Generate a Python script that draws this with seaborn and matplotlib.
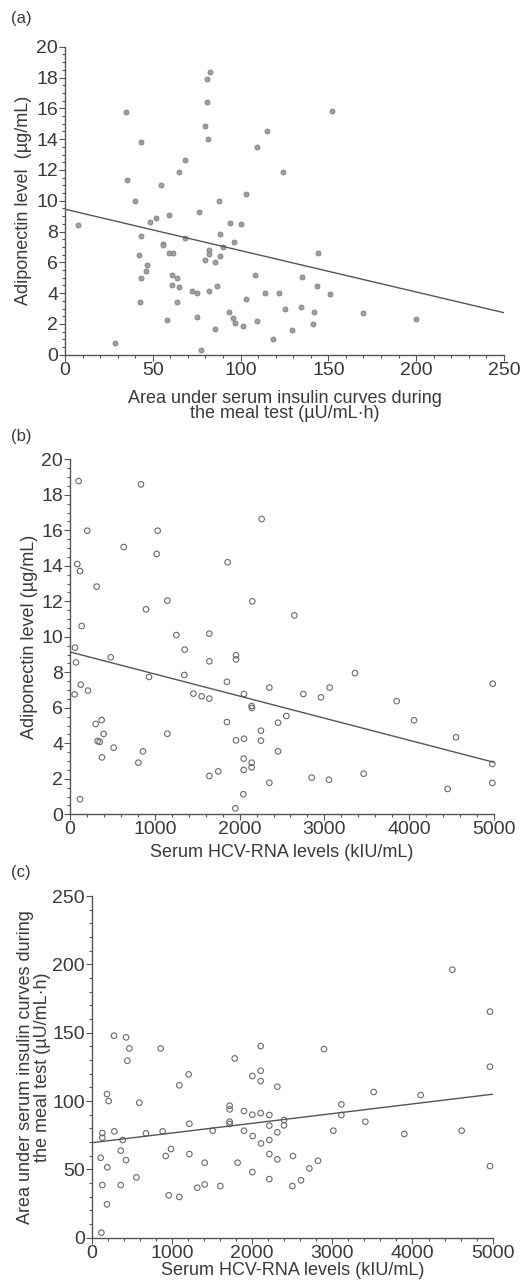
import matplotlib
matplotlib.use("Agg")
import matplotlib.pyplot as plt
from matplotlib.ticker import MultipleLocator
import seaborn as sns
import pandas as pd

# ---------------- data ----------------
# (a) AUC insulin vs adiponectin
a_auc = [7.2, 28.5, 34.9, 35.5, 40, 42, 43.5, 43.5, 43.3, 42.5, 46.7, 45.9, 48.2, 52, 54.5,
         55.6, 56, 59, 57.9, 59.4, 61.7, 60.7, 60.7, 63.6, 65.1, 63.8, 65.1, 68.5, 68.5, 72.3,
         75.2, 75, 76.3, 77.6, 79.7, 80.7, 80.9, 82.8, 81.6, 79.5, 82, 82, 82, 85.4, 85.4,
         86.6, 87.5, 88.3, 88.5, 89.8, 93.2, 93.8, 95.5, 96.4, 97, 100.4, 101.2, 103.1, 103.3,
         108.2, 109.2, 109.5, 114.8, 114.1, 118.6, 121.9, 124, 125.5, 129.1, 134.2, 135,
         141.8, 141.2, 143.3, 144.1, 150.9, 152.2, 169.5, 199.9]
a_adipo = [8.42, 0.74, 15.78, 11.34, 10.0, 6.47, 13.83, 7.73, 4.96, 3.4, 5.84, 5.45, 8.64, 8.85,
           11.0, 7.19, 7.1, 9.05, 2.25, 6.58, 6.58, 5.17, 4.52, 4.96, 4.42, 3.4, 11.84, 12.66,
           7.55, 4.11, 4.0, 2.47, 9.29, 0.32, 14.85, 17.92, 16.39, 18.38, 14.03, 6.17, 6.8,
           6.54, 4.11, 6.0, 1.67, 4.46, 10.0, 7.84, 6.39, 7.01, 2.79, 8.57, 2.36, 7.34, 2.08,
           8.48, 1.86, 3.59, 10.41, 5.17, 13.5, 2.19, 14.55, 4.0, 1.02, 4.0, 11.84, 3.0, 1.58,
           3.12, 5.06, 2.79, 1.99, 4.44, 6.58, 3.94, 15.82, 2.68, 2.29]
a_fit_x = [0, 250]
a_fit_y = [9.45, 2.73]

# (b) HCV-RNA vs adiponectin
b_rna = [102, 837, 204, 1034, 633, 1022, 86, 118, 1859, 2260, 314, 1148, 2150, 896, 2646, 138,
         1254, 1643, 1352, 59, 71, 480, 1643, 1958, 1958, 932, 1348, 1851, 3361, 4985, 126, 55,
         212, 1455, 1553, 1643, 2052, 2351, 2752, 2960, 3062, 2142, 2146, 3852, 2551, 303, 373,
         397, 326, 350, 515, 377, 1148, 1851, 2453, 4057, 1958, 2052, 2252, 2252, 2453, 4552,
         861, 806, 1643, 1749, 2048, 2048, 2142, 2142, 2351, 2850, 3054, 3463, 4454, 4981,
         4981, 118, 2044, 1950]
b_adipo = [18.78, 18.59, 15.98, 15.98, 15.06, 14.67, 14.10, 13.71, 14.2, 16.64, 12.83, 12.04,
           12.0, 11.55, 11.21, 10.61, 10.1, 10.18, 9.28, 9.39, 8.56, 8.85, 8.62, 8.96, 8.73,
           7.74, 7.85, 7.47, 7.96, 7.36, 7.31, 6.76, 6.97, 6.8, 6.65, 6.52, 6.78, 7.14, 6.78,
           6.59, 7.14, 6.1, 5.99, 6.38, 5.54, 5.09, 5.31, 4.53, 4.13, 4.08, 3.76, 3.21, 4.54,
           5.2, 5.16, 5.3, 4.17, 4.26, 4.71, 4.15, 3.55, 4.34, 3.55, 2.91, 2.16, 2.42, 3.14,
           2.5, 2.91, 2.65, 1.78, 2.07, 1.95, 2.29, 1.43, 2.84, 1.77, 0.85, 1.13, 0.34]
b_fit_x = [0, 5000]
b_fit_y = [9.15, 2.93]

# (c) HCV-RNA vs AUC insulin
c_rna = [4497, 4966, 4966, 4966, 278, 428, 470, 445, 860, 2107, 2897, 1783, 1209, 2003, 2107,
         2107, 1093, 2315, 191, 212, 594, 3516, 4102, 3113, 3113, 1720, 1720, 1720, 1720, 1899,
         2003, 2107, 2215, 2215, 2398, 2398, 3412, 1218, 133, 133, 283, 387, 677, 885, 1509,
         1899, 2007, 2111, 2215, 2315, 3013, 3898, 4613, 112, 195, 362, 428, 923, 989, 1218,
         1409, 1820, 2215, 2315, 2510, 2714, 2822, 2003, 2215, 557, 133, 362, 1317, 1409,
         1604, 960, 1093, 2502, 2610, 191, 121]
c_auc = [196.1, 165.4, 125.1, 52.4, 147.8, 146.6, 138.5, 129.5, 138.5, 140.2, 138.0, 131.2,
         119.5, 118.3, 122.2, 114.6, 111.5, 110.5, 105.1, 100.0, 98.8, 106.6, 104.4, 97.6,
         89.8, 96.6, 93.9, 84.9, 83.2, 92.7, 90.0, 91.2, 89.8, 82.0, 86.1, 82.2, 84.9, 83.4,
         76.6, 73.2, 77.8, 71.5, 76.3, 77.8, 78.3, 78.3, 74.4, 69.0, 71.5, 77.1, 78.3, 75.9,
         78.3, 58.5, 51.5, 63.7, 56.8, 59.8, 64.9, 61.2, 54.9, 54.9, 61.2, 57.3, 59.8, 50.7,
         56.3, 48.0, 42.9, 44.1, 38.5, 38.5, 36.6, 39.0, 37.8, 31.0, 29.8, 37.8, 42.0, 24.4, 3.7]
c_fit_x = [0, 5000]
c_fit_y = [69.5, 105.0]

label_adipo_a = "Adiponectin level  (\u00b5g/mL)"
label_adipo_b = "Adiponectin level (\u00b5g/mL)"
label_auc = "Area under serum insulin curves during\nthe meal test (\u00b5U/mL\u00b7h)"
label_rna = "Serum HCV-RNA levels (kIU/mL)"

# ---------------- style ----------------
sns.set_style("ticks")
plt.rcParams["font.family"] = ["Liberation Sans", "DejaVu Sans"]
TXT = "#3a3a3a"
LINE = "#555555"
plt.rcParams.update({
    "axes.edgecolor": LINE, "xtick.color": LINE, "ytick.color": LINE,
    "xtick.labelcolor": TXT, "ytick.labelcolor": TXT, "axes.labelcolor": TXT,
    "axes.linewidth": 1.0, "xtick.direction": "out", "ytick.direction": "out",
    "xtick.major.size": 4, "ytick.major.size": 4, "xtick.minor.size": 2,
    "ytick.minor.size": 2, "xtick.minor.width": 0.8, "ytick.minor.width": 0.8,
})

TICK_FS = 14
LAB_FS = 13

fig = plt.figure(figsize=(5.2, 12.81), dpi=100)

def setup(ax, xlim, ylim, xmaj, xmin, ymaj, ymin):
    ax.set_xlim(*xlim)
    ax.set_ylim(*ylim)
    ax.xaxis.set_major_locator(MultipleLocator(xmaj))
    ax.xaxis.set_minor_locator(MultipleLocator(xmin))
    ax.yaxis.set_major_locator(MultipleLocator(ymaj))
    ax.yaxis.set_minor_locator(MultipleLocator(ymin))
    ax.tick_params(labelsize=TICK_FS, pad=1)
    sns.despine(ax=ax)
    for s in ("left", "bottom"):
        ax.spines[s].set_clip_on(False)

# (a)
ax1 = fig.add_axes([0.125, 0.7231, 0.844, 0.2404])
sns.scatterplot(x=a_auc, y=a_adipo, ax=ax1, s=13, color="#a0a0a0",
                edgecolor="#808080", linewidth=0.6, clip_on=False)
sns.lineplot(x=a_fit_x, y=a_fit_y, ax=ax1, color=LINE, linewidth=1.0)
setup(ax1, (0, 250), (0, 20), 50, 10, 2, 0.5)
ax1.set_xlabel(label_auc, fontsize=LAB_FS, labelpad=8, linespacing=0.9)
ax1.set_ylabel(label_adipo_a, fontsize=LAB_FS, labelpad=3)

# (b)
ax2 = fig.add_axes([0.1346, 0.3643, 0.8154, 0.2771])
sns.scatterplot(x=b_rna, y=b_adipo, ax=ax2, s=16, facecolor="none",
                edgecolor="#6a6a6a", linewidth=0.8, clip_on=False)
sns.lineplot(x=b_fit_x, y=b_fit_y, ax=ax2, color=LINE, linewidth=1.0)
setup(ax2, (0, 5000), (0, 20), 1000, 200, 2, 0.5)
ax2.set_xlabel(label_rna, fontsize=LAB_FS, labelpad=4)
ax2.set_ylabel(label_adipo_b, fontsize=LAB_FS, labelpad=2)

# (c)
ax3 = fig.add_axes([0.1763, 0.0338, 0.7712, 0.2667])
sns.scatterplot(x=c_rna, y=c_auc, ax=ax3, s=16, facecolor="none",
                edgecolor="#6a6a6a", linewidth=0.8, clip_on=False)
sns.lineplot(x=c_fit_x, y=c_fit_y, ax=ax3, color=LINE, linewidth=1.0)
setup(ax3, (0, 5000), (0, 250), 1000, 200, 50, 10)
ax3.set_xlabel(label_rna, fontsize=LAB_FS, labelpad=0)
ax3.set_ylabel(label_auc, fontsize=LAB_FS, labelpad=1, linespacing=0.95)

for lab, y in (("(a)", 1 - 18 / 1281), ("(b)", 1 - 437 / 1281), ("(c)", 1 - 873 / 1281)):
    fig.text(11 / 520, y, lab, fontsize=12, color=TXT, va="center", ha="left")

fig.savefig("out.png", dpi=100, facecolor="white")
